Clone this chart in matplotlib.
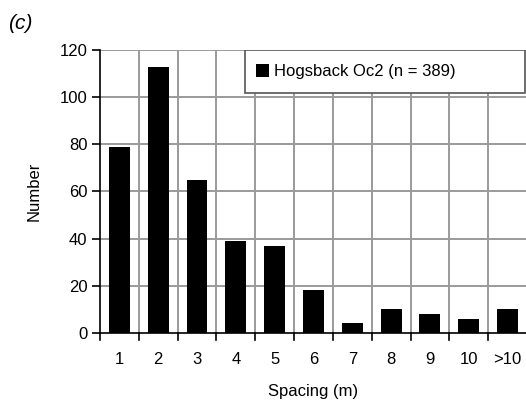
import matplotlib
matplotlib.use('Agg')
import matplotlib.pyplot as plt
from matplotlib.patches import Rectangle
import numpy as np

plt.rcParams['font.family'] = ['Liberation Sans', 'DejaVu Sans']

# spacing classes and counts
categories = ['1', '2', '3', '4', '5', '6', '7', '8', '9', '10', '>10']
counts = [79, 113, 65, 39, 37, 18, 4, 10, 8, 6, 10]
y_ticks = [0, 20, 40, 60, 80, 100, 120]

fig = plt.figure(figsize=(5.26, 4.04), dpi=100)
ax = fig.add_axes([0.19, 0.176, 0.812, 0.7])

x = np.arange(len(categories))
ax.bar(x, counts, width=0.54, color='black', zorder=3,
       label='Hogsback Oc2 (n = 389)')

ax.set_xlim(-0.5, len(categories) - 0.5)
ax.set_ylim(0, 120)
ax.set_yticks(y_ticks)
ax.set_xticks(x)
ax.set_xticklabels(categories, fontsize=12)
ax.tick_params(axis='y', labelsize=12, direction='out', length=6, width=1.2, pad=3)
ax.tick_params(axis='x', length=0, pad=14)

# gridlines between classes and at each y tick
for b in np.arange(-0.5, len(categories), 1.0)[1:]:
    ax.axvline(b, color='#9a9a9a', lw=1.4, zorder=1)
for yt in y_ticks[1:]:
    ax.axhline(yt, color='#9a9a9a', lw=1.4, zorder=1)

# short tick marks on the class boundaries below the axis
for b in np.arange(-0.5, len(categories), 1.0):
    ax.plot([b, b], [0, -3], color='black', lw=1.2, clip_on=False, zorder=4)

for s in ['top', 'right']:
    ax.spines[s].set_visible(False)
for s in ['left', 'bottom']:
    ax.spines[s].set_linewidth(1.2)
    ax.spines[s].set_zorder(4)

ax.set_ylabel('Number', fontsize=12, labelpad=13)
ax.set_xlabel('Spacing (m)', fontsize=12, labelpad=12)

# legend box spanning the upper right of the plot
box = Rectangle((0.34, 0.848), 0.655, 0.152, transform=ax.transAxes,
                facecolor='white', edgecolor='#555555', lw=1.2, zorder=5)
ax.add_patch(box)
leg = ax.legend(loc='center left', bbox_to_anchor=(0.365, 0.924), fontsize=12,
                frameon=False, handlelength=0.8, handleheight=0.8,
                handletextpad=0.3, borderpad=0, borderaxespad=0)
leg.set_zorder(6)

fig.text(8 / 526, 1 - 14 / 404, '(c)', fontsize=15, style='italic', va='top')

fig.savefig('out.png', dpi=100)
